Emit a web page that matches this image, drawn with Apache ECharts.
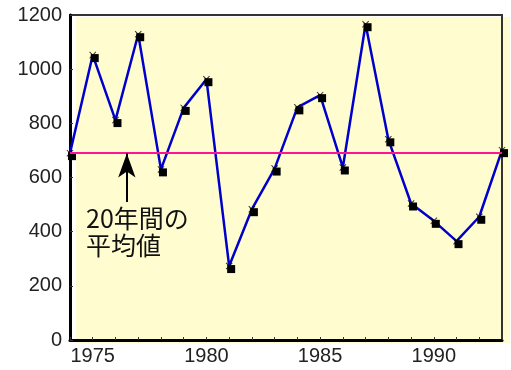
<!DOCTYPE html>
<html>
<head>
<meta charset="utf-8">
<script src="https://cdn.jsdelivr.net/npm/echarts@6/dist/echarts.min.js"></script>
<style>
    html, body { margin: 0; padding: 0; background: #fff; }
    #main { width: 511px; height: 370px; }
</style>
</head>
<body>
<div id="main"></div>
<script>
    var years = [1974, 1975, 1976, 1977, 1978, 1979, 1980, 1981, 1982, 1983,
                 1984, 1985, 1986, 1987, 1988, 1989, 1990, 1991, 1992, 1993];
    var values = [690, 1052, 812, 1129, 630, 857, 963, 273, 483, 633,
                  859, 904, 637, 1166, 741, 504, 440, 365, 455, 701];
    var average = 692;
    var labelYears = [1975, 1980, 1985, 1990];
    var noteText = '20年間の\n平均値';

    var points = years.map(function (y, i) { return [y, values[i]]; });
    var cross = 'path://M0,1L1,0L5,4L9,0L10,1L6,5L10,9L9,10L5,6L1,10L0,9L4,5Z';

    var myChart = echarts.init(document.getElementById('main'));
    var option = {
        animation: false,
        backgroundColor: '#fff',
        graphic: [
            {
                type: 'rect', z: -10, silent: true,
                shape: { x: 76, y: 17, width: 434, height: 326 },
                style: { fill: '#FFFDCF' }
            },
            {
                type: 'text', left: 86, top: 205, z: 10,
                style: {
                    text: noteText, fontSize: 25, lineHeight: 27,
                    fontFamily: 'Noto Sans CJK JP', fill: '#111'
                }
            }
        ],
        grid: {
            left: 70, top: 15, right: 9, bottom: 30,
            show: true, borderColor: '#333', borderWidth: 2,
            backgroundColor: 'transparent'
        },
        xAxis: {
            type: 'value', min: 1974, max: 1993, interval: 1,
            splitLine: { show: false },
            axisLine: { lineStyle: { color: '#000', width: 3 } },
            axisTick: { inside: true, length: 3, lineStyle: { color: '#333' } },
            axisLabel: {
                margin: 6, fontSize: 20, color: '#222', fontFamily: 'Liberation Sans',
                formatter: function (v) { return labelYears.indexOf(v) >= 0 ? String(v) : ''; }
            }
        },
        yAxis: {
            type: 'value', min: 0, max: 1200, interval: 200,
            splitLine: { show: false },
            axisLine: { show: true, lineStyle: { color: '#000', width: 3 } },
            axisTick: { show: true, inside: true, length: 3, lineStyle: { color: '#333' } },
            axisLabel: {
                margin: 8, fontSize: 20, color: '#222', fontFamily: 'Liberation Sans',
                formatter: function (v) { return String(v); }
            }
        },
        series: [
            {
                type: 'line',
                data: points,
                symbol: 'rect',
                symbolSize: 8,
                symbolOffset: [2, 3],
                itemStyle: { color: '#000' },
                lineStyle: { color: '#0000CC', width: 2.5 },
                z: 3,
                markLine: {
                    silent: true,
                    symbol: 'none',
                    label: { show: false },
                    data: [
                        { yAxis: average, lineStyle: { color: '#FF1493', width: 2, type: 'solid' } },
                        [
                            { coord: [1976.5, 510], symbol: 'none', lineStyle: { color: '#000', width: 2, type: 'solid' } },
                            { coord: [1976.5, 689], symbol: 'arrow', symbolSize: [13, 24] }
                        ]
                    ]
                }
            },
            {
                type: 'scatter',
                data: points,
                symbol: cross,
                symbolSize: 7,
                itemStyle: { color: '#000' },
                z: 4
            }
        ]
    };
    myChart.setOption(option);
</script>
</body>
</html>
